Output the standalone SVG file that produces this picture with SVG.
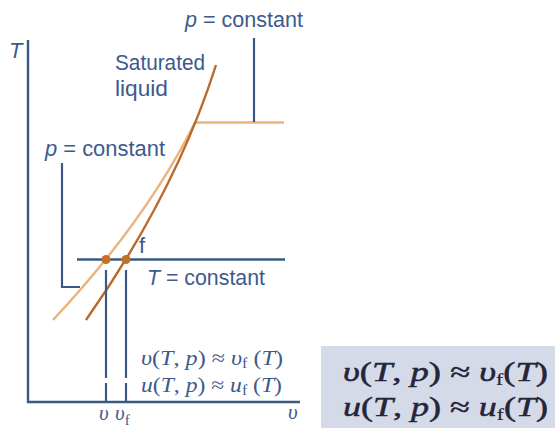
<svg xmlns="http://www.w3.org/2000/svg" width="555" height="428" viewBox="0 0 555 428">
<style>
.ax{stroke:#3b5886;stroke-width:2.4;fill:none}
.ptr{stroke:#3b5886;stroke-width:2.2;fill:none}
.lt{stroke:#ebb37c;stroke-width:2.4;fill:none}
.dk{stroke:#b9692a;stroke-width:2.4;fill:none}
.lbl{font-family:"Liberation Sans",Arial,sans-serif;font-size:22px;fill:#3d5a8c}
.it{font-style:italic}
.ser{font-family:"Liberation Serif","Times New Roman",serif;font-size:21px;fill:#3d5a8c}
.eq{font-family:"Liberation Serif","Times New Roman",serif;font-size:27px;fill:#24253a;stroke:#24253a;stroke-width:0.5}
.dot{fill:#c27026}
</style>
<rect id="eqbox" x="321" y="346" width="234" height="82" fill="#d5dae8"/>
<g id="axes">
<path class="ax" d="M28,40 V402 H300"/>
<text class="lbl it" x="9" y="58">T</text>
<text class="ser it" x="288" y="419" font-size="23">υ</text>
</g>
<g id="connectors">
<path class="lt" d="M53,320 Q145.7,221 195,122.5"/>
<path class="lt" d="M195,122.5 H284"/>
<path class="dk" d="M86,320 Q175.6,192.5 216,65"/>
<path class="ax" d="M77,259.5 H285"/>
<path class="ptr" d="M254,38 V122"/>
<path class="ptr" d="M62,163 V287 H80"/>
<path class="ptr" d="M106,270 V378 M106,383 V402"/>
<path class="ptr" d="M126,270 V378 M126,383 V402"/>
</g>
<g id="state-points">
<circle class="dot" cx="106" cy="259.5" r="4.5"/>
<circle class="dot" cx="126" cy="259.5" r="4.5"/>
</g>
<g id="label-p-upper">
<text class="lbl" x="185" y="27" textLength="118" lengthAdjust="spacingAndGlyphs"><tspan class="it">p</tspan> = constant</text>
</g>
<g id="label-sat-liquid">
<text class="lbl" x="115" y="70" textLength="90" lengthAdjust="spacingAndGlyphs">Saturated</text>
<text class="lbl" x="115" y="96" textLength="53" lengthAdjust="spacingAndGlyphs">liquid</text>
</g>
<g id="label-p-lower">
<text class="lbl" x="45" y="156" textLength="120" lengthAdjust="spacingAndGlyphs"><tspan class="it">p</tspan> = constant</text>
</g>
<g id="label-f">
<text class="lbl" x="139" y="253" font-size="20">f</text>
</g>
<g id="label-T-const">
<text class="lbl" x="147" y="285" textLength="118" lengthAdjust="spacingAndGlyphs"><tspan class="it">T</tspan> = constant</text>
</g>
<g id="axis-ticks">
<text class="ser it" x="99" y="420" font-size="23">υ</text>
<text class="ser" x="115" y="420" font-size="23"><tspan class="it">υ</tspan><tspan font-size="15" dy="5">f</tspan></text>
</g>
<g id="eq-left">
<text class="ser" x="141" y="365" textLength="142" lengthAdjust="spacingAndGlyphs"><tspan class="it">υ</tspan>(<tspan class="it">T</tspan>, <tspan class="it">p</tspan>) ≈ <tspan class="it">υ</tspan><tspan font-size="14" dy="3">f</tspan><tspan dy="-3"> (</tspan><tspan class="it">T</tspan>)</text>
<text class="ser" x="141" y="392" textLength="141" lengthAdjust="spacingAndGlyphs"><tspan class="it">u</tspan>(<tspan class="it">T</tspan>, <tspan class="it">p</tspan>) ≈ <tspan class="it">u</tspan><tspan font-size="14" dy="3">f</tspan><tspan dy="-3"> (</tspan><tspan class="it">T</tspan>)</text>
</g>
<g id="eq-right">
<text class="eq" x="343" y="381" textLength="205" lengthAdjust="spacingAndGlyphs"><tspan class="it">υ</tspan>(<tspan class="it">T</tspan>, <tspan class="it">p</tspan>) ≈ <tspan class="it">υ</tspan><tspan font-size="16" dy="4" stroke-width="0.2">f</tspan><tspan dy="-4">(</tspan><tspan class="it">T</tspan>)</text>
<text class="eq" x="343" y="416" textLength="205" lengthAdjust="spacingAndGlyphs"><tspan class="it">u</tspan>(<tspan class="it">T</tspan>, <tspan class="it">p</tspan>) ≈ <tspan class="it">u</tspan><tspan font-size="16" dy="4" stroke-width="0.2">f</tspan><tspan dy="-4">(</tspan><tspan class="it">T</tspan>)</text>
</g>
</svg>
